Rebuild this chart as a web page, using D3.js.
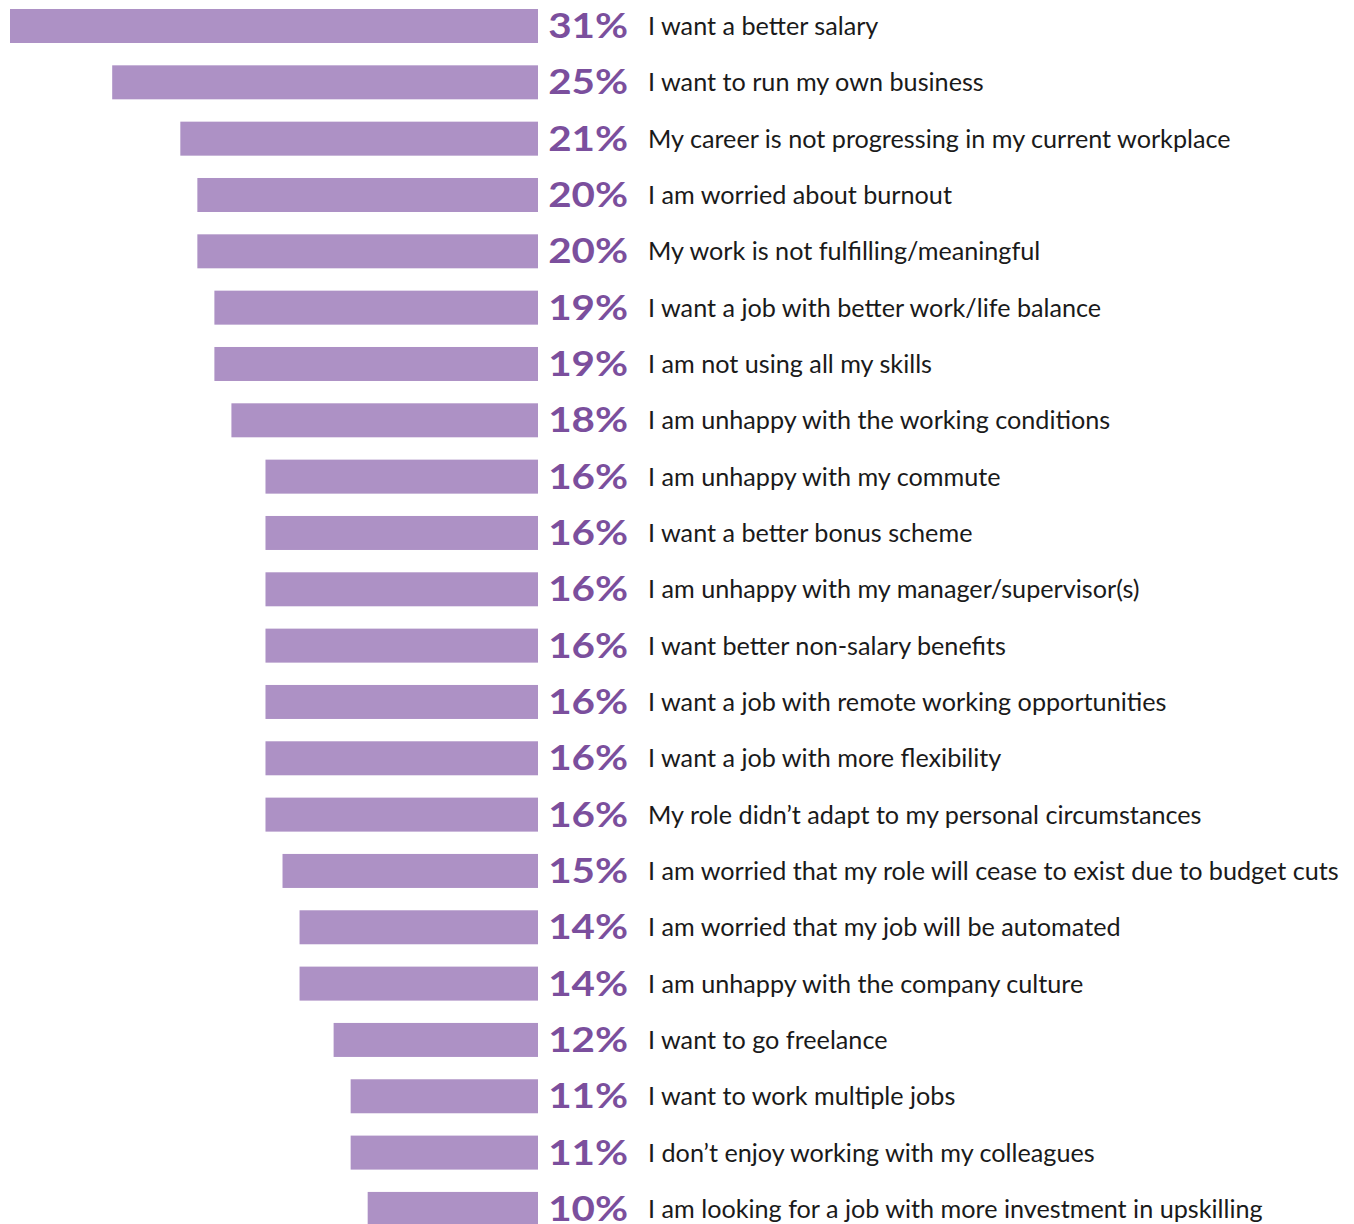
<!doctype html>
<html>
<head>
<meta charset="utf-8">
<title>Reasons for leaving</title>
<script src="https://d3js.org/d3.v7.min.js"></script>
<style>
body { margin: 0; background: #fff; }
.pct { font-family: 'Lato'; font-weight: 700; fill: #7b4f9d; }
.lbl { font-family: 'Lato'; fill: #1a1a1a; }
</style>
</head>
<body>
<div id="chart"></div>
<script>
// reasons, top to bottom
var reasons = [
  "I want a better salary",
  "I want to run my own business",
  "My career is not progressing in my current workplace",
  "I am worried about burnout",
  "My work is not fulfilling/meaningful",
  "I want a job with better work/life balance",
  "I am not using all my skills",
  "I am unhappy with the working conditions",
  "I am unhappy with my commute",
  "I want a better bonus scheme",
  "I am unhappy with my manager/supervisor(s)",
  "I want better non-salary benefits",
  "I want a job with remote working opportunities",
  "I want a job with more flexibility",
  "My role didn\u2019t adapt to my personal circumstances",
  "I am worried that my role will cease to exist due to budget cuts",
  "I am worried that my job will be automated",
  "I am unhappy with the company culture",
  "I want to go freelance",
  "I want to work multiple jobs",
  "I don\u2019t enjoy working with my colleagues",
  "I am looking for a job with more investment in upskilling"
];
var percents = [31, 25, 21, 20, 20, 19, 19, 18, 16, 16, 16, 16, 16, 16, 16, 15, 14, 14, 12, 11, 11, 10];

var data = reasons.map(function(r, i){ return {reason: r, value: percents[i]}; });

var width = 1354, height = 1224;
var svg = d3.select("#chart").append("svg")
  .attr("width", width)
  .attr("height", height);

// bars grow leftwards from x=538
var x = d3.scaleLinear().domain([0, 31]).range([538, 10]);
var step = 56.33, barH = 34;
var y = d3.scaleBand()
  .domain(reasons)
  .range([9, 9 + 21 * step + barH])
  .paddingInner(1 - barH / step)
  .paddingOuter(0);

svg.selectAll(".bar")
  .data(data)
  .enter().append("rect")
  .attr("class", "bar")
  .attr("x", function(d){ return x(d.value); })
  .attr("y", function(d){ return y(d.reason); })
  .attr("width", function(d){ return x(0) - x(d.value); })
  .attr("height", y.bandwidth())
  .attr("fill", "#ad91c5");

// percent figures, widened a bit to look like the original condensed face
svg.selectAll(".pct")
  .data(data)
  .enter().append("text")
  .attr("class", "pct")
  .attr("transform", function(d){
    return "translate(628," + (y(d.reason) + y.bandwidth() / 2 + 12) + ") scale(1.17,1)";
  })
  .attr("text-anchor", "end")
  .style("font-size", "34.5px")
  .text(function(d){ return d.value + "%"; });

svg.selectAll(".lbl")
  .data(data)
  .enter().append("text")
  .attr("class", "lbl")
  .attr("x", 648)
  .attr("y", function(d){ return y(d.reason) + y.bandwidth() / 2 + 9; })
  .style("font-size", "25.2px")
  .text(function(d){ return d.reason; });
</script>
</body>
</html>
